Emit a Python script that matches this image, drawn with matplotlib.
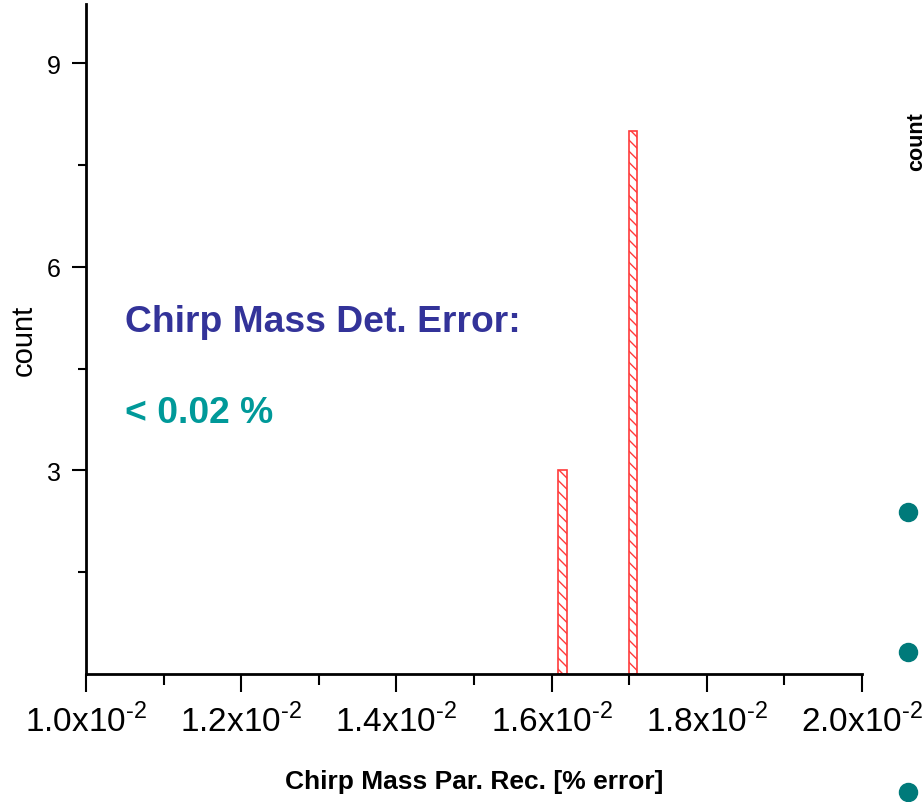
import matplotlib
matplotlib.use("Agg")
import matplotlib.pyplot as plt
from matplotlib.lines import Line2D
from matplotlib.ticker import FixedLocator

plt.rcParams['font.family'] = ['Liberation Sans', 'DejaVu Sans']
plt.rcParams['mathtext.fontset'] = 'custom'
plt.rcParams['mathtext.rm'] = 'Liberation Sans'
plt.rcParams['hatch.linewidth'] = 1.0

# histogram of chirp mass reconstruction error
bin_centers = [0.01614, 0.01705]
counts = [3, 8]
bin_width = 0.00011

x_ticks = [0.010, 0.012, 0.014, 0.016, 0.018, 0.020]
x_tick_labels = ['1.0x10$^{\\text{-2}}$', '1.2x10$^{\\text{-2}}$', '1.4x10$^{\\text{-2}}$',
                 '1.6x10$^{\\text{-2}}$', '1.8x10$^{\\text{-2}}$', '2.0x10$^{\\text{-2}}$']
y_ticks = [3, 6, 9]

fig = plt.figure(figsize=(9.24, 8.03), dpi=100)
ax = fig.add_axes([86 / 924, 1 - 675 / 803, 776 / 924, 670 / 803])

ax.bar(bin_centers, counts, width=bin_width, facecolor='white',
       edgecolor='#ff3b3b', linewidth=1.2, hatch='\\\\\\')

ax.set_xlim(0.010, 0.020)
ax.set_ylim(0, 9.87)

ax.xaxis.set_major_locator(FixedLocator(x_ticks))
ax.xaxis.set_minor_locator(FixedLocator([0.011, 0.013, 0.015, 0.017, 0.019]))
ax.set_xticklabels(x_tick_labels)
ax.yaxis.set_major_locator(FixedLocator(y_ticks))
ax.yaxis.set_minor_locator(FixedLocator([1.5, 4.5, 7.5]))

for side in ['top', 'right']:
    ax.spines[side].set_visible(False)
for side in ['left', 'bottom']:
    ax.spines[side].set_linewidth(2)

ax.tick_params(axis='x', which='major', length=13, width=1.5, labelsize=24, pad=8)
ax.tick_params(axis='x', which='minor', length=8, width=1.5)
ax.tick_params(axis='y', which='major', length=10, width=1.5, labelsize=18, pad=8)
ax.tick_params(axis='y', which='minor', length=6, width=1.5)

ax.set_xlabel('Chirp Mass Par. Rec. [% error]', fontsize=19, fontweight='bold')
ax.xaxis.set_label_coords(0.5, (675 - 770) / 670)
ax.set_ylabel('count', fontsize=21)
ax.yaxis.set_label_coords((38 - 86) / 776, 0.5)

ax.text(0.0105, 5.2, 'Chirp Mass Det. Error:', color='#333399',
        fontsize=26.8, fontweight='bold', va='center')
ax.text(0.0105, 3.85, '< 0.02 %', color='#009999',
        fontsize=26.8, fontweight='bold', va='center')

# pieces of the neighbouring panel on the slide
fig.text(916.5 / 924, 1 - 142 / 803, 'count', rotation=90, fontsize=15.5,
         fontweight='bold', ha='center', va='center')
for y in [513, 653, 793]:
    fig.add_artist(Line2D([908 / 924], [1 - y / 803], marker='o', markersize=13,
                          color='#007a7a', linestyle='none',
                          transform=fig.transFigure))

fig.savefig('out.png', dpi=100)
